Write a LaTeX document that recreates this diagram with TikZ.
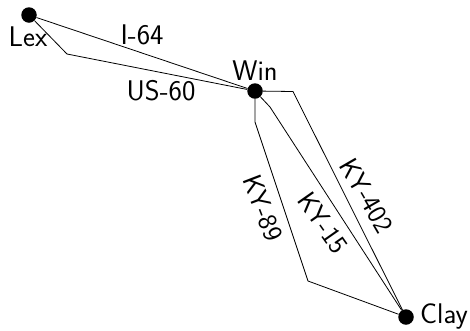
\documentclass[tikz,border=0pt]{standalone}
\usepackage{fontspec}
\setmainfont{Latin Modern Sans}
\tikzset{city/.style={circle,fill=black,inner sep=0pt,minimum size=15.5bp},
lbl/.style={inner sep=0pt,font=\fontsize{28.5}{32}\selectfont},
rlbl/.style={inner sep=0pt,font=\fontsize{27}{30}\selectfont},road/.style={line width=0.8bp}}
\begin{document}
\begin{tikzpicture}[x=1bp,y=-1bp]
\useasboundingbox (0,0) rectangle (470,330);
\node[city] (lex) at (29,15) {};
\node[city] (win) at (255,91) {};
\node[city] (clay) at (406,317) {};
\coordinate (a) at (67,54);
\coordinate (b) at (293,91.5);
\coordinate (c) at (255,122);
\coordinate (d) at (308,281);
\coordinate (e) at (270,107);
\draw[road] (lex) -- (win);
\draw[road] (lex) -- (a) -- (win);
\draw[road] (win) -- (e) -- (clay);
\draw[road] (win) -- (b) -- (clay);
\draw[road] (win) -- (c) -- (d) -- (clay);
\node[lbl] (t1) at (28,37) {Lex};
\node[lbl] (t2) at (255,71) {Win};
\node[lbl] (t3) at (444,317) {Clay};
\node[lbl] (t4) at (142,35) {I-64};
\node[lbl] (t5) at (161,91) {US-60};
\node[rlbl,rotate=-60] (t6) at (367,196) {KY-402};
\node[rlbl,rotate=-55] (t7) at (323,223) {KY-15};
\node[rlbl,rotate=-69] (t8) at (263,208) {KY-89};
\end{tikzpicture}
\end{document}
